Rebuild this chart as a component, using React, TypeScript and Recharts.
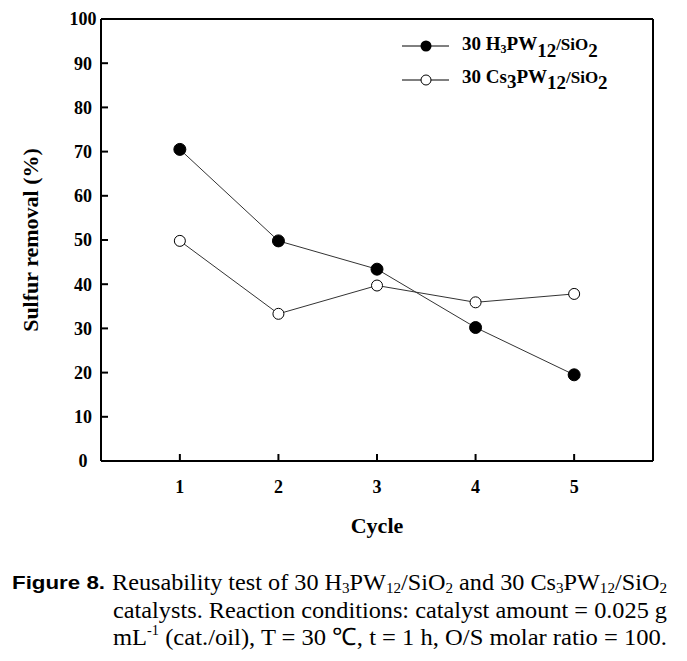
import React from 'react';
import { LineChart, Line, XAxis, YAxis, ReferenceLine } from 'recharts';

// cycle number on x, sulfur removal (%) on y
const cycles = [1, 2, 3, 4, 5];
const h3pwRemoval = [70.5, 49.8, 43.4, 30.2, 19.5];
const cs3pwRemoval = [49.8, 33.3, 39.7, 35.9, 37.8];
const xTicks = [1, 2, 3, 4, 5];
const yMajorTicks = [0, 10, 20, 30, 40, 50, 60, 70, 80, 90, 100];
const yMinorTicks = [5, 15, 25, 35, 45, 55, 65, 75, 85, 95];

const data = cycles.map((c, i) => ({ cycle: c, h3pw: h3pwRemoval[i], cs3pw: cs3pwRemoval[i] }));

const W = 687;
const H = 661;
const serif = '"Liberation Serif", "Times New Roman", serif';

const YTick = (props: any) => {
  const { x, y, payload } = props;
  return (
    <text x={x} y={y} dy="0.35em" textAnchor="middle" fontFamily={serif} fontWeight="bold" fontSize={18} fill="#000">
      {payload.value}
    </text>
  );
};

const App: React.FC = () => {
  return (
    <div style={{ position: 'absolute', left: 0, top: 0, width: W, height: H, background: '#fff' }}>
      <LineChart width={W} height={H} data={data} margin={{ top: 19, right: 34, left: 41, bottom: 170 }}>
        <XAxis
          dataKey="cycle"
          type="number"
          domain={[0.2, 5.8]}
          ticks={xTicks}
          allowDataOverflow
          height={30}
          axisLine={{ stroke: '#000', strokeWidth: 2 }}
          tickLine={{ stroke: '#000', strokeWidth: 2 }}
          tickSize={-7}
          tickMargin={26}
          tick={{ fontFamily: serif, fontWeight: 'bold', fontSize: 18, fill: '#000' }}
        />
        <YAxis
          yAxisId="main"
          type="number"
          domain={[0, 100]}
          ticks={yMajorTicks}
          width={60}
          axisLine={{ stroke: '#000', strokeWidth: 2 }}
          tickLine={{ stroke: '#000', strokeWidth: 2 }}
          tickSize={-7}
          tickMargin={25}
          tick={<YTick />}
        />
        <YAxis
          yAxisId="minor"
          type="number"
          domain={[0, 100]}
          ticks={yMinorTicks}
          mirror
          width={0}
          axisLine={false}
          tickLine={{ stroke: '#000', strokeWidth: 1.5 }}
          tickSize={5}
          tick={false}
        />
        <ReferenceLine yAxisId="main" y={100} stroke="#000" strokeWidth={2} />
        <ReferenceLine yAxisId="main" x={5.8} stroke="#000" strokeWidth={2} />
        <Line
          yAxisId="main"
          dataKey="h3pw"
          type="linear"
          stroke="#333"
          strokeWidth={1}
          dot={{ r: 6, fill: '#000', stroke: '#000', strokeWidth: 1 }}
          activeDot={false}
          isAnimationActive={false}
        />
        <Line
          yAxisId="main"
          dataKey="cs3pw"
          type="linear"
          stroke="#333"
          strokeWidth={1}
          dot={{ r: 5.5, fill: '#fff', stroke: '#000', strokeWidth: 1 }}
          activeDot={false}
          isAnimationActive={false}
        />
      </LineChart>

      <svg width={W} height={H} style={{ position: 'absolute', left: 0, top: 0, pointerEvents: 'none' }}>
        {/* legend */}
        <g fontFamily={serif} fontWeight="bold" fill="#000">
          <line x1={402} y1={46} x2={449} y2={46} stroke="#000" strokeWidth={1} />
          <circle cx={426} cy={46} r={5.5} fill="#000" />
          <text x={462} y={50} fontSize={19}>
            30 H<tspan fontSize={12} dy={3}>3</tspan>
            <tspan dy={-3}>PW</tspan>
            <tspan dy={7}>12</tspan>
            <tspan dy={-7} fontSize={17}>/SiO</tspan>
            <tspan dy={7}>2</tspan>
          </text>
          <line x1={402} y1={80} x2={449} y2={80} stroke="#000" strokeWidth={1} />
          <circle cx={426} cy={80} r={5} fill="#fff" stroke="#000" strokeWidth={1} />
          <text x={462} y={83} fontSize={19}>
            30 Cs<tspan dy={5}>3</tspan>
            <tspan dy={-5}>PW</tspan>
            <tspan dy={6}>12</tspan>
            <tspan dy={-6} fontSize={17}>/SiO</tspan>
            <tspan dy={6}>2</tspan>
          </text>
        </g>

        {/* axis titles */}
        <text
          x={0}
          y={0}
          transform="translate(38 240) rotate(-90)"
          textAnchor="middle"
          fontFamily={serif}
          fontWeight="bold"
          fontSize={22}
          fill="#000"
        >
          Sulfur removal (%)
        </text>
        <text x={377} y={533} textAnchor="middle" fontFamily={serif} fontWeight="bold" fontSize={22} fill="#000">
          Cycle
        </text>

        {/* caption */}
        <text x={12} y={589} fontFamily='"Liberation Sans", Arial, sans-serif' fontWeight="bold" fontSize={19} textLength={93} lengthAdjust="spacingAndGlyphs" fill="#000">
          Figure 8.
        </text>
        <text x={112} y={590} fontFamily={serif} fontSize={24} textLength={555} lengthAdjust="spacingAndGlyphs" fill="#000">
          Reusability test of 30 H<tspan fontSize={15} dy={3}>3</tspan>
          <tspan dy={-3}>PW</tspan>
          <tspan fontSize={15} dy={3}>12</tspan>
          <tspan dy={-3}>/SiO</tspan>
          <tspan fontSize={15} dy={3}>2</tspan>
          <tspan dy={-3}> and 30 Cs</tspan>
          <tspan fontSize={15} dy={3}>3</tspan>
          <tspan dy={-3}>PW</tspan>
          <tspan fontSize={15} dy={3}>12</tspan>
          <tspan dy={-3}>/SiO</tspan>
          <tspan fontSize={15} dy={3}>2</tspan>
        </text>
        <text x={113} y={618} fontFamily={serif} fontSize={24} textLength={554} lengthAdjust="spacingAndGlyphs" fill="#000">
          catalysts. Reaction conditions: catalyst amount = 0.025 g
        </text>
        <text x={113} y={645} fontFamily={serif} fontSize={24} textLength={554} lengthAdjust="spacingAndGlyphs" fill="#000">
          mL<tspan fontSize={14} dy={-10}>-1</tspan>
          <tspan dy={10}> (cat./oil), T = 30 ℃, t = 1 h, O/S molar ratio = 100.</tspan>
        </text>
      </svg>
    </div>
  );
};

export default App;
